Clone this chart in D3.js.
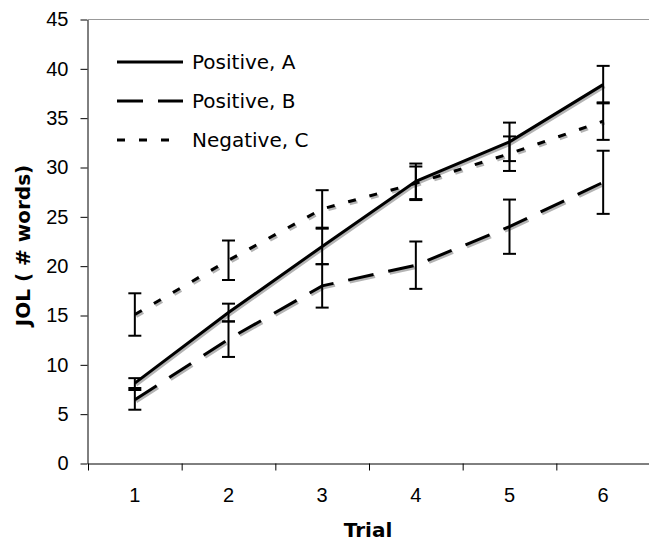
<!DOCTYPE html>
<html>
<head>
<meta charset="utf-8">
<script src="https://cdn.jsdelivr.net/npm/d3@7"></script>
<style>
  body { margin: 0; background: #fff; }
  svg { display: block; font-family: Verdana, "DejaVu Sans", sans-serif; }
</style>
</head>
<body>
<div id="chart"></div>
<script>
// JOL by trial, three conditions with error bars

// Data
const trials = [1, 2, 3, 4, 5, 6];
const seriesNames = ['Positive, A', 'Positive, B', 'Negative, C'];
const valuesA = [8.15, 15.3, 22.0, 28.6, 32.6, 38.4];
const errorsA = [0.5, 0.9, 1.8, 1.8, 1.95, 1.9];
const valuesB = [6.45, 12.6, 18.0, 20.1, 24.0, 28.5];
const errorsB = [1.0, 1.8, 2.2, 2.4, 2.75, 3.2];
const valuesC = [15.1, 20.6, 25.8, 28.4, 31.4, 34.7];
const errorsC = [2.15, 2.0, 1.9, 1.7, 1.75, 1.9];
const yTicks = [0, 5, 10, 15, 20, 25, 30, 35, 40, 45];

const dashes = ['none', '26,15', '8,14'];

const width = 649, height = 545;
const plotLeft = 88, plotRight = 650, plotTop = 19.5, plotBottom = 463.5;

const svg = d3.select('#chart').append('svg')
  .attr('width', width)
  .attr('height', height);

const x = d3.scaleBand().domain(trials).range([plotLeft, plotRight]).paddingInner(0);
const xEdges = d3.scaleLinear().domain([0, trials.length]).range([plotLeft, plotRight]);
const y = d3.scaleLinear().domain([0, 45]).range([plotBottom, plotTop]);
const cx = t => x(t) + x.bandwidth() / 2;

// plot area border (top)
svg.append('line')
  .attr('x1', plotLeft).attr('x2', plotRight)
  .attr('y1', plotTop).attr('y2', plotTop)
  .attr('stroke', '#999').attr('stroke-width', 1);

// y axis
const yAxis = svg.append('g')
  .attr('transform', `translate(${plotLeft - 0.5},0)`)
  .call(d3.axisLeft(y).tickValues(yTicks).tickSize(7).tickSizeOuter(0).tickPadding(12));
yAxis.selectAll('text').style('font-size', '20px').attr('fill', '#000');
yAxis.selectAll('line, path').attr('stroke', '#000');

// x axis: ticks between categories, labels centered
const xTicks = svg.append('g')
  .attr('transform', `translate(0,${plotBottom})`)
  .call(d3.axisBottom(xEdges).tickValues(d3.range(0, trials.length + 1)).tickSize(7).tickSizeOuter(0).tickFormat(''));
xTicks.selectAll('line, path').attr('stroke', '#000');

const xLabels = svg.append('g')
  .attr('transform', `translate(0,${plotBottom})`)
  .call(d3.axisBottom(x).tickSize(0).tickPadding(24));
xLabels.select('.domain').remove();
xLabels.selectAll('text').style('font-size', '20px').attr('fill', '#000');

// axis titles
svg.append('text')
  .attr('x', (plotLeft + plotRight) / 2 - 1).attr('y', 537)
  .attr('text-anchor', 'middle')
  .style('font-size', '20px').style('font-weight', 'bold')
  .text('Trial');

svg.append('text')
  .attr('transform', `translate(23,${(plotTop + plotBottom) / 2 + 4}) rotate(-90)`)
  .attr('text-anchor', 'middle')
  .attr('dominant-baseline', 'central')
  .style('font-size', '20px').style('font-weight', 'bold')
  .text('JOL ( # words)');

// series
const series = [
  { name: seriesNames[0], values: valuesA, errors: errorsA, dash: dashes[0] },
  { name: seriesNames[1], values: valuesB, errors: errorsB, dash: dashes[1] },
  { name: seriesNames[2], values: valuesC, errors: errorsC, dash: dashes[2] }
];

const line = d3.line()
  .x((d, i) => cx(trials[i]))
  .y(d => y(d));

// shadows
svg.append('g')
  .attr('transform', 'translate(1.5,2)')
  .selectAll('path')
  .data(series)
  .enter()
  .append('path')
  .attr('d', d => line(d.values))
  .attr('fill', 'none')
  .attr('stroke', '#b4b4b4')
  .attr('stroke-width', 3)
  .attr('stroke-dasharray', d => d.dash);

svg.append('g')
  .selectAll('path')
  .data(series)
  .enter()
  .append('path')
  .attr('d', d => line(d.values))
  .attr('fill', 'none')
  .attr('stroke', '#000')
  .attr('stroke-width', 3)
  .attr('stroke-dasharray', d => d.dash);

// error bars
const capW = 6.5;
series.forEach(s => {
  const g = svg.append('g').attr('stroke', '#000').attr('stroke-width', 2);
  s.values.forEach((v, i) => {
    const px = cx(trials[i]);
    const hi = y(v + s.errors[i]), lo = y(v - s.errors[i]);
    g.append('line').attr('x1', px).attr('x2', px).attr('y1', hi).attr('y2', lo);
    g.append('line').attr('x1', px - capW).attr('x2', px + capW).attr('y1', hi).attr('y2', hi);
    g.append('line').attr('x1', px - capW).attr('x2', px + capW).attr('y1', lo).attr('y2', lo);
  });
});

// legend
const legend = svg.append('g');
series.forEach((s, i) => {
  const ly = 62 + i * 39;
  legend.append('line')
    .attr('x1', 117).attr('x2', 183)
    .attr('y1', ly).attr('y2', ly)
    .attr('stroke', '#000').attr('stroke-width', 3)
    .attr('stroke-dasharray', s.dash);
  legend.append('text')
    .attr('x', 192).attr('y', ly)
    .attr('dominant-baseline', 'central')
    .style('font-size', '20px')
    .text(s.name);
});
</script>
</body>
</html>
